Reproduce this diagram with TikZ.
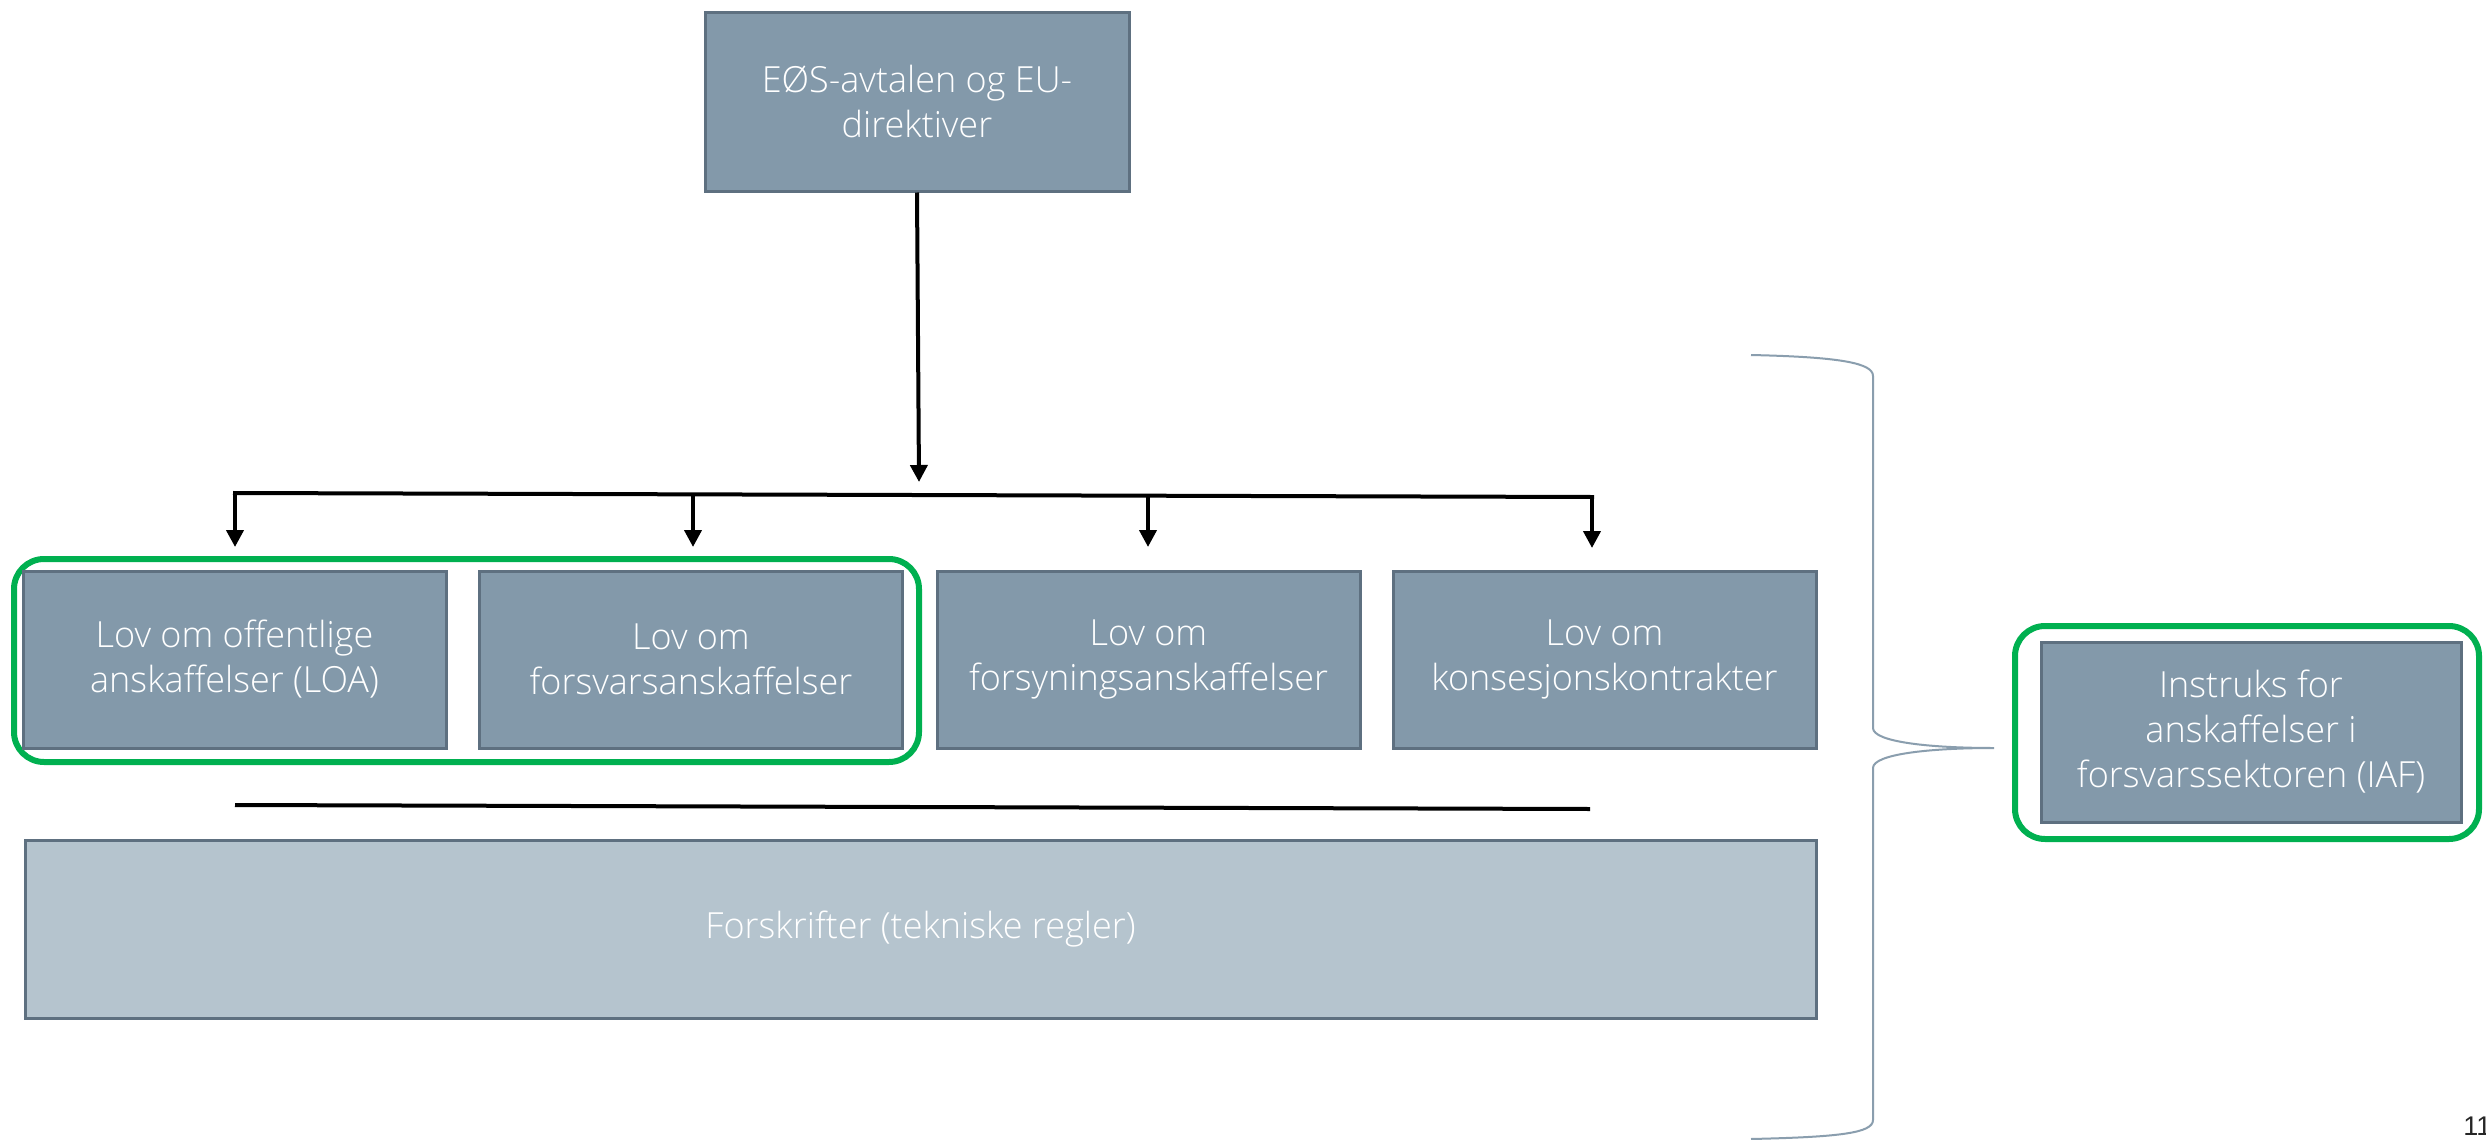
\documentclass[tikz,border=0pt]{standalone}
\usepackage{fontspec}
\setmainfont{Open Sans}[UprightFont=* Light]
\newfontfamily\pagefont{Liberation Sans}
\usetikzlibrary{arrows.meta}
\definecolor{boxfill}{HTML}{8399AA}
\definecolor{boxline}{HTML}{5E7080}
\definecolor{lightfill}{HTML}{B5C4CE}
\definecolor{greenline}{HTML}{00B050}
\definecolor{bracecol}{HTML}{8A9EAE}
\begin{document}
\begin{tikzpicture}[x=0.5pt,y=-0.5pt,
 lawbox/.style={draw=boxline, line width=1.5pt, fill=boxfill, text=white, align=center,
   font=\fontsize{18}{22.5}\selectfont, inner sep=0pt, minimum width=211.5pt, minimum height=88.5pt},
 conn/.style={line width=2pt, -{Triangle[width=8.5pt,length=8.5pt]}},
 plainline/.style={line width=2pt},
 hl/.style={draw=greenline, line width=3pt, rounded corners=15pt}]
\useasboundingbox (0,0) rectangle (2486,1140);
\fill[white] (0,0) rectangle (2486,1140);

% green highlight frames
\draw[hl] (14,559) rectangle (919,762);
\draw[hl] (2015,626) rectangle (2479,839);

% boxes
\node[lawbox, minimum width=212pt, minimum height=89.5pt] (top) at (917,101.5) {EØS-avtalen og EU-\\direktiver};
\node[lawbox] (loa) at (234.5,659.5) {Lov om offentlige\\anskaffelser (LOA)};
\node[lawbox] (fors) at (691,659.5) {Lov om\\forsvarsanskaffelser};
\node[lawbox] (forsy) at (1148.5,659.5) {Lov om\\forsyningsanskaffelser};
\node[lawbox] (kons) at (1604.5,659.5) {Lov om\\konsesjonskontrakter};
\node[lawbox, fill=lightfill, minimum width=895.5pt, minimum height=89pt] (forskr) at (920.5,929) {Forskrifter (tekniske regler)};
\node[lawbox, minimum width=210pt, minimum height=90pt] (iaf) at (2251,732) {Instruks for\\anskaffelser i\\forsvarssektoren (IAF)};

% connectors
\coordinate (jn) at (919,482);
\draw[conn] (top.south) -- (jn);
\coordinate (b1) at (235,493);
\coordinate (b2) at (693,494.5);
\coordinate (b3) at (1148,496);
\coordinate (b4) at (1592,497);
\coordinate (t1) at (235,547);
\coordinate (t2) at (693,547);
\coordinate (t3) at (1148,547);
\coordinate (t4) at (1592,548);
\draw[plainline, line cap=rect] (b1) -- (b4);
\draw[conn] (b1) -- (t1);
\draw[conn] (b2) -- (t2);
\draw[conn] (b3) -- (t3);
\draw[conn] (b4) -- (t4);

% separator line
\coordinate (s1) at (235,805);
\coordinate (s2) at (1590,809);
\draw[plainline] (s1) -- (s2);

% brace
\coordinate (brtop) at (1751,355);
\coordinate (brtip) at (1994,748);
\coordinate (brbot) at (1751,1139);
\draw[bracecol, line width=1pt] (brtop) .. controls (1840,357) and (1873,363) .. (1873,376)
  -- (1873,728) .. controls (1873,742) and (1930,748) .. (brtip)
  .. controls (1930,748) and (1873,754) .. (1873,768)
  -- (1873,1120) .. controls (1873,1133) and (1840,1137) .. (brbot);

% page number
\node[anchor=base west, inner sep=0pt, font=\pagefont\fontsize{13.5}{16}\selectfont, text=black!85] (pg) at (2463,1135) {11};
\end{tikzpicture}
\end{document}
